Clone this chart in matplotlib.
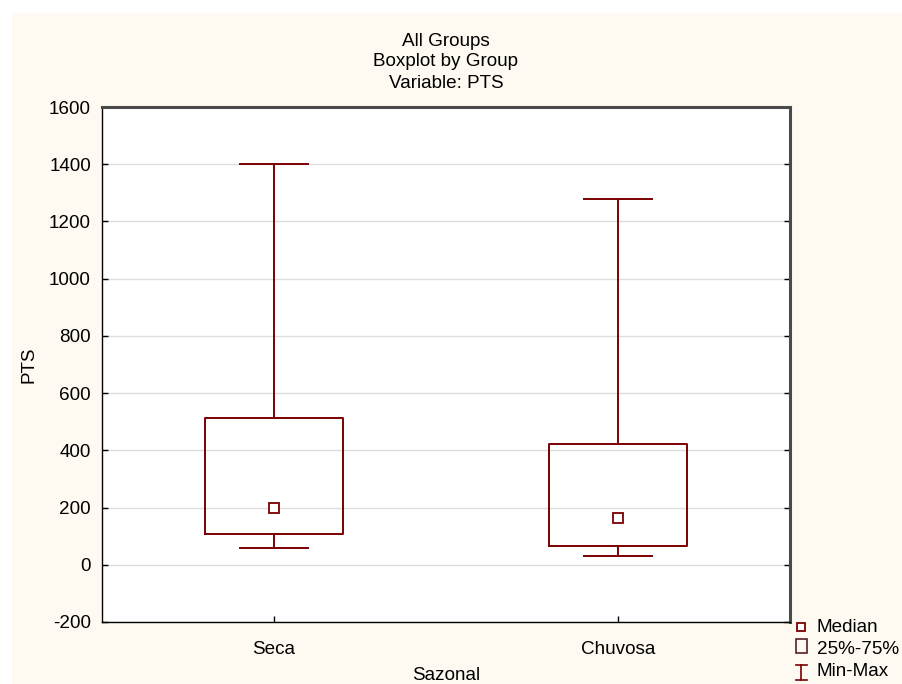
import matplotlib
matplotlib.use("Agg")
import matplotlib.pyplot as plt
from matplotlib.patches import Rectangle
from matplotlib.lines import Line2D

plt.rcParams['font.family'] = ['Liberation Sans', 'DejaVu Sans']

categories = ["Seca", "Chuvosa"]
medians = [200, 163]
q1 = [107, 67]
q3 = [513, 422]
mins = [58, 29]
maxs = [1400, 1280]
yticks = [-200, 0, 200, 400, 600, 800, 1000, 1200, 1400, 1600]

W, H = 903, 684
DARK = "#7a0000"
CREAM = "#fefaf1"
FS = 13.6

fig = plt.figure(figsize=(W / 100, H / 100), dpi=100)
fig.patch.set_facecolor("white")
fig.patches.append(Rectangle((12 / W, 0), 1 - 12 / W, 1 - 13 / H, transform=fig.transFigure,
                             facecolor=CREAM, edgecolor="none", zorder=-10))

ax = fig.add_axes([102 / W, 1 - 622 / H, (790 - 102) / W, (622 - 107) / H])
ax.set_facecolor("white")

positions = list(range(1, len(categories) + 1))
stats = []
for i, c in enumerate(categories):
    stats.append(dict(label=c, med=medians[i], q1=q1[i], q3=q3[i],
                      whislo=mins[i], whishi=maxs[i], fliers=[]))

ax.bxp(stats, positions=positions, widths=0.4, capwidths=0.2, showfliers=False,
       boxprops=dict(color=DARK, linewidth=1.4),
       whiskerprops=dict(color=DARK, linewidth=1.4),
       capprops=dict(color=DARK, linewidth=1.4),
       medianprops=dict(linestyle="none"), zorder=3)
ax.plot(positions, medians, linestyle="none", marker="s", markersize=7,
        markerfacecolor="white", markeredgecolor=DARK, markeredgewidth=1.3, zorder=4)

ax.set_xlim(0.5, 2.5)
ax.set_ylim(-200, 1600)
ax.set_yticks(yticks)
ax.set_yticklabels([str(v) for v in yticks], fontsize=FS)
ax.set_xticks(positions)
ax.set_xticklabels(categories, fontsize=FS)
ax.yaxis.grid(True, color="#dddddd", linewidth=1.0, zorder=0)
ax.set_axisbelow(True)
ax.tick_params(axis="both", direction="in", length=4, width=1, colors="black",
               top=False, right=True, pad=8)
ax.tick_params(axis="x", pad=14)

for s in ["left", "bottom"]:
    ax.spines[s].set_color("black")
    ax.spines[s].set_linewidth(1.0)
for s in ["top", "right"]:
    ax.spines[s].set_color("#4a4a4a")
    ax.spines[s].set_linewidth(2.2)

cx = (102 + 790) / 2 / W
for txt, yp in [("All Groups", 41), ("Boxplot by Group", 62), ("Variable: PTS", 84)]:
    fig.text(cx, 1 - yp / H, txt, ha="center", va="center", fontsize=FS)

fig.text(cx, 1 - 676 / H, "Sazonal", ha="center", va="center", fontsize=FS)
fig.text(29 / W, 1 - 365 / H, "PTS", ha="center", va="center", rotation=90, fontsize=FS)

# legend
lx = 801.5 / W
fig.lines.append(Line2D([lx], [1 - 627 / H], transform=fig.transFigure, marker="s",
                        markersize=6, markerfacecolor="white", markeredgecolor=DARK,
                        markeredgewidth=1.3, linestyle="none"))
fig.patches.append(Rectangle((796 / W, 1 - 653 / H), 11 / W, 14 / H, transform=fig.transFigure,
                             facecolor="none", edgecolor="#5a2020", linewidth=1.2))
fig.lines.append(Line2D([lx, lx], [1 - 665 / H, 1 - 680 / H], transform=fig.transFigure,
                        color=DARK, linewidth=1.2))
fig.lines.append(Line2D([796 / W, 807 / W], [1 - 665 / H, 1 - 665 / H], transform=fig.transFigure,
                        color=DARK, linewidth=1.2))
fig.lines.append(Line2D([796 / W, 807 / W], [1 - 680 / H, 1 - 680 / H], transform=fig.transFigure,
                        color=DARK, linewidth=1.2))
for txt, yp in [("Median", 627), ("25%-75%", 649), ("Min-Max", 672)]:
    fig.text(817 / W, 1 - yp / H, txt, ha="left", va="center", fontsize=FS)

fig.savefig("out.png", dpi=100, facecolor=fig.get_facecolor())
